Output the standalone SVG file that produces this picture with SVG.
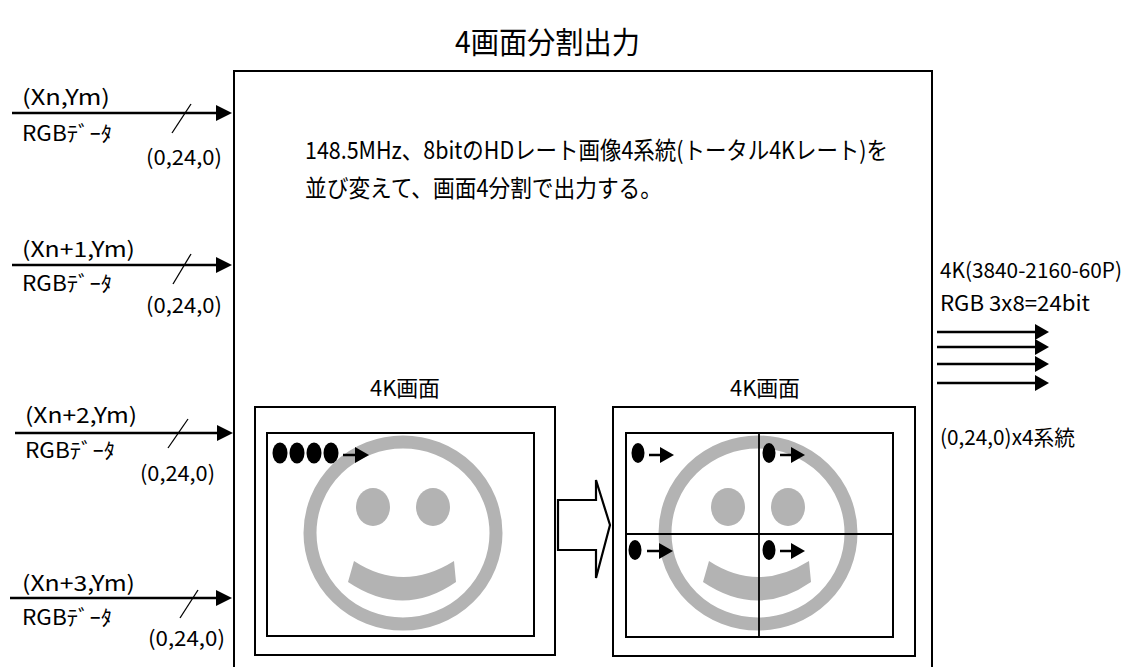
<svg xmlns="http://www.w3.org/2000/svg" width="1125" height="667" viewBox="0 0 1125 667">
  <style>
    text { font-family: "Noto Sans CJK JP", "Liberation Sans", sans-serif; fill: #000; }
    .lbl { font-size: 21px; }
    .scr { font-size: 22px; }
    .desc { font-size: 24px; }
    .title { font-size: 30px; }
    .wire { stroke: #000; stroke-width: 2.5; fill: none; }
    .thin { stroke: #000; stroke-width: 1.3; fill: none; }
    .box { stroke: #000; stroke-width: 2; fill: none; }
    .grid { stroke: #000; stroke-width: 1.8; fill: none; }
    .face { stroke: #b3b3b3; stroke-width: 13; fill: none; }
    .faceFill { fill: #b3b3b3; }
    .dot { fill: #000; }
    .head { fill: #000; }
  </style>
  <defs>
    <!-- filled arrowhead, tip at 0,0 pointing right -->
    <path id="tip" d="M-16,-8 L0,0 L-16,8 Z"/>
    <path id="tipSmall" d="M-14,-8 L0,0 L-14,8 Z"/>
    <!-- smiley face centred on 0,0 -->
    <g id="smiley">
      <ellipse cx="0" cy="0" rx="93" ry="91" class="face"/>
      <ellipse cx="-30" cy="-26" rx="17" ry="19" class="faceFill"/>
      <ellipse cx="30" cy="-26" rx="17" ry="19" class="faceFill"/>
      <path d="M-49,28 Q0,60 51,28 L53,49 Q0,86 -55,49 Z" class="faceFill"/>
    </g>
  </defs>

  <!-- title -->
  <text class="title" x="455" y="53" textLength="185" lengthAdjust="spacingAndGlyphs">4画面分割出力</text>

  <!-- processing block -->
  <g id="block">
    <rect x="234" y="71" width="698" height="640" class="box"/>
    <text class="desc" x="305" y="159" textLength="583" lengthAdjust="spacingAndGlyphs">148.5MHz、8bitのHDレート画像4系統(トータル4Kレート)を</text>
    <text class="desc" x="305" y="197" textLength="357" lengthAdjust="spacingAndGlyphs">並び変えて、画面4分割で出力する。</text>
  </g>

  <!-- source screen -->
  <g id="screen-in">
    <text class="scr" x="370" y="396" textLength="70" lengthAdjust="spacingAndGlyphs">4K画面</text>
    <rect x="255" y="407" width="300" height="248" class="box"/>
    <rect x="267" y="433" width="267" height="203" class="box"/>
    <use href="#smiley" x="403" y="533"/>
    <ellipse cx="280" cy="453" rx="7.5" ry="10.5" class="dot"/>
    <ellipse cx="297" cy="453" rx="7.5" ry="10.5" class="dot"/>
    <ellipse cx="314" cy="453" rx="7.5" ry="10.5" class="dot"/>
    <ellipse cx="331" cy="453" rx="7.5" ry="10.5" class="dot"/>
    <line x1="343" y1="455" x2="360" y2="455" class="wire"/>
    <use href="#tipSmall" x="369" y="455" class="head"/>
  </g>

  <!-- conversion arrow -->
  <g id="convert">
    <path d="M558,500 L596,500 L596,480 L610,525 L596,578 L596,550 L558,550 Z" fill="#fff" stroke="#000" stroke-width="2.2" stroke-linejoin="miter"/>
  </g>

  <!-- quad-split screen -->
  <g id="screen-out">
    <text class="scr" x="730" y="396" textLength="70" lengthAdjust="spacingAndGlyphs">4K画面</text>
    <rect x="613" y="407" width="302" height="249" class="box"/>
    <rect x="626" y="433" width="267" height="204" class="box"/>
    <use href="#smiley" x="758" y="533"/>
    <line x1="759" y1="433" x2="759" y2="637" class="grid"/>
    <line x1="626" y1="534" x2="893" y2="534" class="grid"/>
    <ellipse cx="638" cy="453" rx="6.5" ry="10" class="dot"/>
    <line x1="649" y1="455" x2="665" y2="455" class="wire"/>
    <use href="#tipSmall" x="674" y="455" class="head"/>
    <ellipse cx="769" cy="453" rx="6.5" ry="10" class="dot"/>
    <line x1="780" y1="455" x2="796" y2="455" class="wire"/>
    <use href="#tipSmall" x="805" y="455" class="head"/>
    <ellipse cx="635" cy="550" rx="6.5" ry="10" class="dot"/>
    <line x1="647" y1="551" x2="664" y2="551" class="wire"/>
    <use href="#tipSmall" x="673" y="551" class="head"/>
    <ellipse cx="769" cy="550" rx="6.5" ry="10" class="dot"/>
    <line x1="780" y1="551" x2="796" y2="551" class="wire"/>
    <use href="#tipSmall" x="805" y="551" class="head"/>
  </g>

  <!-- inputs -->
  <g id="input-0">
    <text class="lbl" x="22" y="105" textLength="88" lengthAdjust="spacingAndGlyphs">(Xn,Ym)</text>
    <text class="lbl" x="22" y="141" textLength="90" lengthAdjust="spacingAndGlyphs">RGBﾃﾞｰﾀ</text>
    <text class="lbl" x="146" y="165" textLength="76" lengthAdjust="spacingAndGlyphs">(0,24,0)</text>
  </g>
  <g id="input-1">
    <text class="lbl" x="22" y="257" textLength="113" lengthAdjust="spacingAndGlyphs">(Xn+1,Ym)</text>
    <text class="lbl" x="22" y="291" textLength="90" lengthAdjust="spacingAndGlyphs">RGBﾃﾞｰﾀ</text>
    <text class="lbl" x="146" y="313" textLength="76" lengthAdjust="spacingAndGlyphs">(0,24,0)</text>
  </g>
  <g id="input-2">
    <text class="lbl" x="25" y="423" textLength="112" lengthAdjust="spacingAndGlyphs">(Xn+2,Ym)</text>
    <text class="lbl" x="25" y="458" textLength="90" lengthAdjust="spacingAndGlyphs">RGBﾃﾞｰﾀ</text>
    <text class="lbl" x="140" y="481" textLength="75" lengthAdjust="spacingAndGlyphs">(0,24,0)</text>
  </g>
  <g id="input-3">
    <text class="lbl" x="22" y="591" textLength="113" lengthAdjust="spacingAndGlyphs">(Xn+3,Ym)</text>
    <text class="lbl" x="22" y="625" textLength="90" lengthAdjust="spacingAndGlyphs">RGBﾃﾞｰﾀ</text>
    <text class="lbl" x="148" y="646" textLength="77" lengthAdjust="spacingAndGlyphs">(0,24,0)</text>
  </g>

  <!-- output -->
  <g id="output">
    <text class="lbl" x="940" y="278" textLength="182" lengthAdjust="spacingAndGlyphs">4K(3840-2160-60P)</text>
    <text class="lbl" x="940" y="311" textLength="150" lengthAdjust="spacingAndGlyphs">RGB 3x8=24bit</text>
    <text class="lbl" x="940" y="445" textLength="135" lengthAdjust="spacingAndGlyphs">(0,24,0)x4系統</text>
  </g>

  <!-- connectors -->
  <g id="connectors">
    <line x1="12" y1="113" x2="220" y2="113" class="wire"/>
    <use href="#tip" x="232" y="113" class="head"/>
    <line x1="172" y1="133" x2="191" y2="104" class="thin"/>
    <line x1="12" y1="265" x2="220" y2="265" class="wire"/>
    <use href="#tip" x="232" y="265" class="head"/>
    <line x1="173" y1="284" x2="191" y2="254" class="thin"/>
    <line x1="15" y1="433" x2="221" y2="433" class="wire"/>
    <use href="#tip" x="233" y="433" class="head"/>
    <line x1="168" y1="448" x2="188" y2="419" class="thin"/>
    <line x1="10" y1="598" x2="220" y2="598" class="wire"/>
    <use href="#tip" x="232" y="598" class="head"/>
    <line x1="180" y1="618" x2="198" y2="590" class="thin"/>
    <line x1="937" y1="332" x2="1038" y2="332" class="wire"/>
    <use href="#tipSmall" x="1049" y="332" class="head"/>
    <line x1="937" y1="347" x2="1038" y2="347" class="wire"/>
    <use href="#tipSmall" x="1049" y="347" class="head"/>
    <line x1="937" y1="364" x2="1038" y2="364" class="wire"/>
    <use href="#tipSmall" x="1049" y="364" class="head"/>
    <line x1="937" y1="383" x2="1038" y2="383" class="wire"/>
    <use href="#tipSmall" x="1049" y="383" class="head"/>
  </g>
</svg>
